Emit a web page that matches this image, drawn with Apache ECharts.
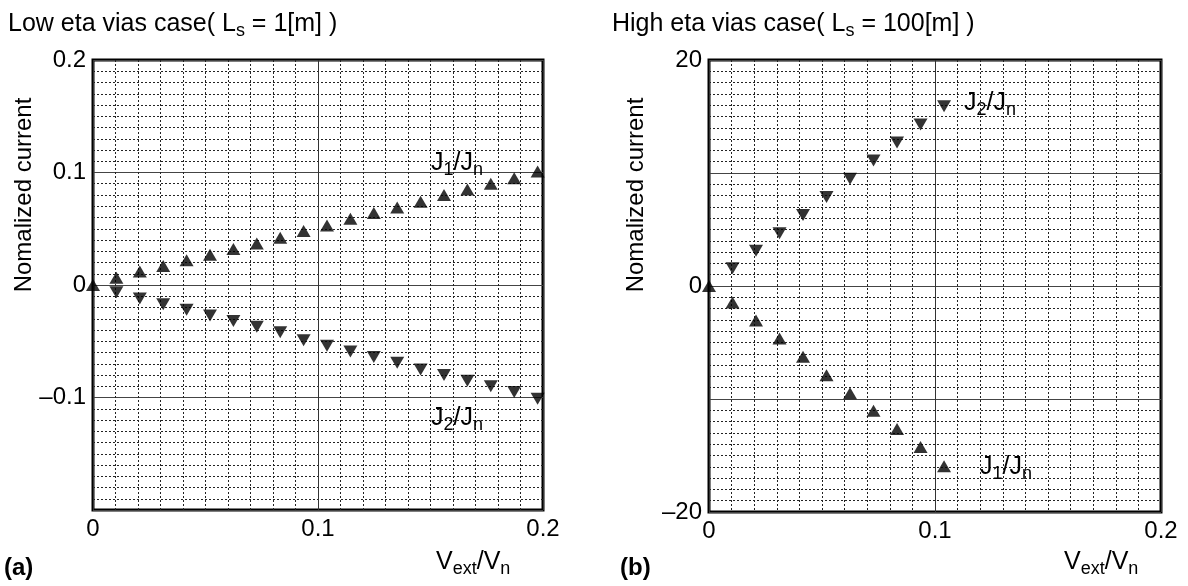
<!DOCTYPE html>
<html>
<head>
<meta charset="utf-8">
<script src="https://cdn.jsdelivr.net/npm/echarts@6/dist/echarts.min.js"></script>
<style>
  html, body { margin: 0; padding: 0; background: #fff; }
  #chart { width: 1188px; height: 586px; }
</style>
</head>
<body>
<div id="chart"></div>
<script>
// (a) low eta case, L_s = 1[m]
const xLow = [0, 0.0104, 0.0208, 0.0312, 0.0416, 0.052, 0.0624, 0.0728, 0.0832, 0.0936,
              0.104, 0.1144, 0.1248, 0.1352, 0.1456, 0.156, 0.1664, 0.1768, 0.1872, 0.1976];
const j1Low = [0, 0.0065, 0.012, 0.017, 0.022, 0.027, 0.032, 0.037, 0.042, 0.048,
               0.053, 0.059, 0.064, 0.069, 0.074, 0.080, 0.085, 0.090, 0.095, 0.101];
// J2 starts at the second point (first one hidden under J1 at the origin)
const j2Low = [-0.0065, -0.012, -0.017, -0.022, -0.027, -0.032, -0.037, -0.042, -0.049,
               -0.054, -0.059, -0.064, -0.069, -0.075, -0.080, -0.085, -0.090, -0.095, -0.101];

// (b) high eta case, L_s = 100[m]
const xHigh = [0, 0.0104, 0.0208, 0.0312, 0.0416, 0.052, 0.0624, 0.0728, 0.0832, 0.0936, 0.104];
const j1High = [0, -1.45, -3.05, -4.65, -6.25, -7.9, -9.5, -11.05, -12.65, -14.25, -15.95];
const j2High = [1.57, 3.12, 4.66, 6.28, 7.88, 9.5, 11.1, 12.7, 14.3, 15.9];

const yTicksLow = ['0.2', '0.1', '0', '\u20130.1'];
const yTicksHigh = ['20', '0', '\u201320'];
const xTicks = ['0', '0.1', '0.2'];

const FONT = 'Liberation Sans, Arial, Helvetica, sans-serif';

function pairs(xs, ys, offset) {
  return ys.map((y, i) => [xs[i + offset], y]);
}

function fmtTick(v, shown) {
  let s = Math.abs(v) < 1e-9 ? '0' : (v < 0 ? '\u2013' + String(+Math.abs(v).toFixed(3)) : String(+v.toFixed(3)));
  return shown.indexOf(s) >= 0 ? s : '';
}

function xAxisOf(gi) {
  return {
    type: 'value', gridIndex: gi, min: 0, max: 0.2, interval: 0.1,
    axisLine: { show: false }, axisTick: { show: false },
    axisLabel: { color: '#000', fontSize: 24, fontFamily: FONT, margin: 7,
                 formatter: v => fmtTick(v, xTicks) },
    splitLine: { show: true, lineStyle: { color: '#333', width: 1 } },
    minorTick: { show: false, splitNumber: 10 },
    minorSplitLine: { show: true, lineStyle: { color: '#222', width: 1, type: [2, 2] } }
  };
}

function yAxisOf(gi, min, max, interval, shown) {
  return {
    type: 'value', gridIndex: gi, min: min, max: max, interval: interval,
    axisLine: { show: false }, axisTick: { show: false },
    axisLabel: { color: '#000', fontSize: 24, fontFamily: FONT, margin: 7,
                 formatter: v => fmtTick(v, shown) },
    splitLine: { show: true, lineStyle: { color: '#444', width: 1 } },
    minorTick: { show: false, splitNumber: 10 },
    minorSplitLine: { show: true, lineStyle: { color: '#222', width: 1, type: [2, 2] } }
  };
}

function scatter(gi, data, down) {
  return {
    type: 'scatter', xAxisIndex: gi, yAxisIndex: gi, data: data,
    symbol: 'triangle', symbolSize: [14, 12], symbolRotate: down ? 180 : 0,
    itemStyle: { color: '#000' }, z: 5, silent: true
  };
}

const rich = {
  s: { fontSize: 18, fontFamily: FONT, fill: '#000', verticalAlign: 'bottom', lineHeight: 18 }
};

function txt(x, y, text, size, o) {
  o = o || {};
  return {
    type: 'text', x: x, y: y, z: 10, silent: true, rotation: o.rotation || 0,
    style: {
      text: text, fill: '#000', fontSize: size, fontFamily: FONT,
      fontWeight: o.bold ? 'bold' : 'normal',
      lineHeight: 32, align: o.align || 'left', verticalAlign: 'middle', rich: rich
    }
  };
}

const chart = echarts.init(document.getElementById('chart'));
chart.setOption({
  backgroundColor: '#fff',
  animation: false,
  grid: [
    { left: 93, top: 60, width: 450, height: 450, show: true, borderColor: '#000', borderWidth: 3,
      backgroundColor: 'transparent', outerBoundsMode: 'none' },
    { left: 709, top: 60, width: 452, height: 452, show: true, borderColor: '#000', borderWidth: 3,
      backgroundColor: 'transparent', outerBoundsMode: 'none' }
  ],
  xAxis: [xAxisOf(0), xAxisOf(1)],
  yAxis: [
    yAxisOf(0, -0.2, 0.2, 0.1, yTicksLow),
    yAxisOf(1, -20, 20, 10, yTicksHigh)
  ],
  series: [
    scatter(0, pairs(xLow, j1Low, 0), false),
    scatter(0, pairs(xLow, j2Low, 1), true),
    scatter(1, pairs(xHigh, j1High, 0), false),
    scatter(1, pairs(xHigh, j2High, 1), true)
  ],
  graphic: [
    txt(8, 24, 'Low eta vias case( L{s|s} = 1[m] )', 25),
    txt(612, 24, 'High eta vias case( L{s|s} = 100[m] )', 25),
    txt(24, 195, 'Nomalized current', 24, { rotation: Math.PI / 2, align: 'center' }),
    txt(636, 195, 'Nomalized current', 24, { rotation: Math.PI / 2, align: 'center' }),
    txt(431, 163, 'J{s|1}/J{s|n}', 25),
    txt(431, 418, 'J{s|2}/J{s|n}', 25),
    txt(964, 103, 'J{s|2}/J{s|n}', 25),
    txt(980, 467, 'J{s|1}/J{s|n}', 25),
    txt(436, 562, 'V{s|ext}/V{s|n}', 25),
    txt(1064, 562, 'V{s|ext}/V{s|n}', 25),
    txt(4, 568, '(a)', 24, { bold: true }),
    txt(620, 568, '(b)', 24, { bold: true })
  ]
});
</script>
</body>
</html>
